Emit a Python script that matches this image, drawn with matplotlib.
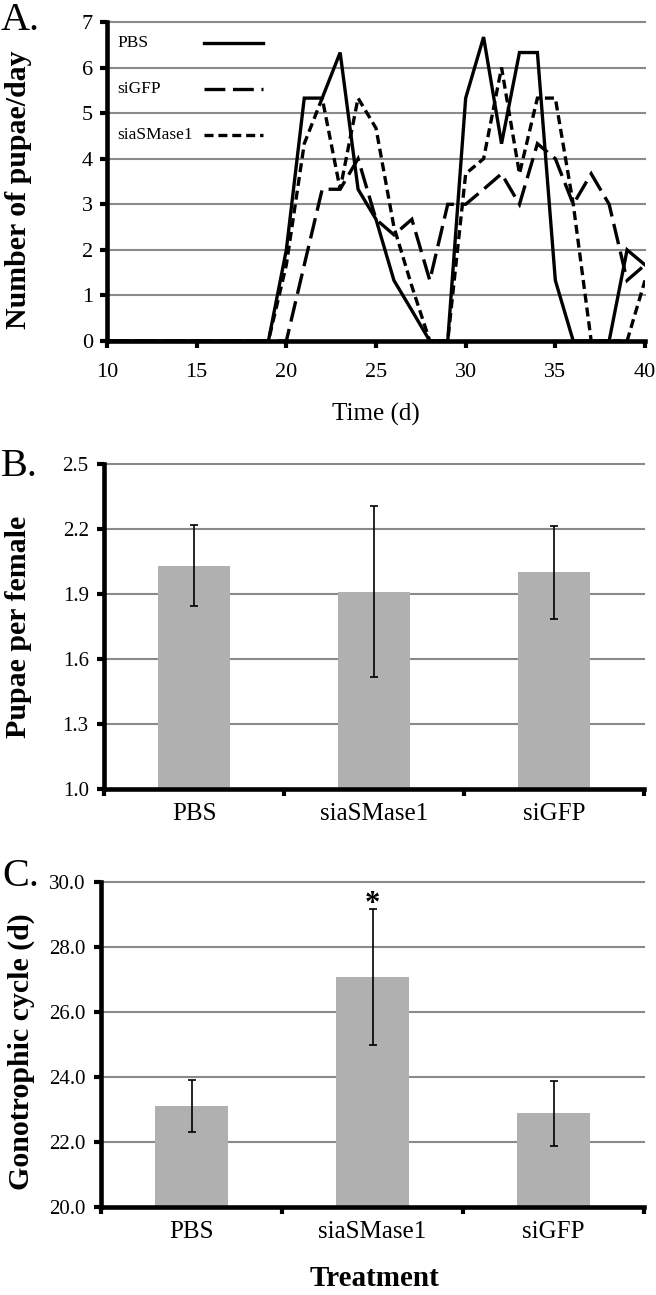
import matplotlib
matplotlib.use('Agg')
import matplotlib.pyplot as plt
from matplotlib.lines import Line2D
import numpy as np

plt.rcParams['font.family'] = ['Liberation Serif', 'DejaVu Serif']
plt.rcParams['lines.scale_dashes'] = False

# ---------------- data ----------------
days = [10, 11, 12, 13, 14, 15, 16, 17, 18, 19, 20, 21, 22, 23, 24, 25,
        26, 27, 28, 29, 30, 31, 32, 33, 34, 35, 36, 37, 38, 39, 40]
pbs_daily = [0, 0, 0, 0, 0, 0, 0, 0, 0,
             0, 2.0, 5.33, 5.33, 6.33, 3.33, 2.67, 1.33, 0.67, 0, 0,
             5.33, 6.67, 4.33, 6.33, 6.33, 1.33, 0, 0, 0, 2.0, 1.67]
sigfp_daily = [0, 0, 0, 0, 0, 0, 0, 0, 0,
               0, 0, 1.67, 3.33, 3.33, 4.0, 2.67, 2.33, 2.67, 1.33, 3.0,
               3.0, 3.33, 3.67, 3.0, 4.33, 4.0, 3.0, 3.67, 3.0, 1.33, 1.67]
siasmase_daily = [0, 0, 0, 0, 0, 0, 0, 0, 0,
                  0, 1.67, 4.33, 5.33, 3.33, 5.33, 4.67, 2.5, 1.2, 0, 0,
                  3.67, 4.0, 6.0, 3.67, 5.33, 5.33, 3.0, 0, 0, 0, 1.33]
series_names = ['PBS', 'siGFP', 'siaSMase1']

treatments = ['PBS', 'siaSMase1', 'siGFP']
pupae_mean = [2.03, 1.91, 2.00]
pupae_err = [0.187, 0.395, 0.215]
cycle_mean = [23.10, 27.07, 22.88]
cycle_err = [0.80, 2.10, 1.00]
significance = ['', '*', '']

# ---------------- figure ----------------
W, H = 656, 1295
fig = plt.figure(figsize=(W / 100, H / 100), dpi=100)


def axes_px(l, t, r, b):
    return fig.add_axes([l / W, 1 - b / H, (r - l) / W, (b - t) / H])


GRID = '#8a8a8a'
BAR = '#b0b0b0'


def style(ax):
    for s in ['top', 'right']:
        ax.spines[s].set_visible(False)
    for s in ['left', 'bottom']:
        ax.spines[s].set_linewidth(3.3)
        ax.spines[s].set_color('black')
        ax.spines[s].set_capstyle('projecting')
    ax.yaxis.grid(True, color=GRID, linewidth=1.5)
    ax.set_axisbelow(True)
    ax.tick_params(axis='both', which='major', direction='out',
                   length=5, width=3, color='black')


axA = axes_px(107, 22, 645, 341)
axB = axes_px(104, 464, 644, 789)
axC = axes_px(101, 882, 644, 1207)

# ---------------- panel A ----------------
style(axA)
styles = {
    'PBS': dict(linestyle='-'),
    'siGFP': dict(linestyle=(0, (15, 5.5))),
    'siaSMase1': dict(linestyle=(0, (6.5, 3.5))),
}
data_map = {'PBS': pbs_daily, 'siGFP': sigfp_daily, 'siaSMase1': siasmase_daily}
for name in series_names:
    axA.plot(days, data_map[name], color='black', lw=2.4,
             solid_joinstyle='miter', dash_joinstyle='miter', zorder=2,
             **styles[name])
axA.set_xlim(10, 40)
axA.set_ylim(0, 7)
axA.set_xticks([10, 15, 20, 25, 30, 35, 40])
axA.set_yticks([0, 1, 2, 3, 4, 5, 6, 7])
axA.tick_params(axis='y', labelsize=16, pad=5)
axA.tick_params(axis='x', labelsize=16, pad=11)
for gl in axA.get_ygridlines():
    gl.set_clip_on(False)

leg_y = [0.934, 0.790, 0.646]
for name, yy in zip(series_names, leg_y):
    axA.text(0.0186, yy, name, transform=axA.transAxes, fontsize=12.5,
             ha='left', va='center')
    axA.add_line(Line2D([0.18, 0.29], [yy, yy], transform=axA.transAxes,
                        color='black', lw=2.4, **styles[name]))

fig.text(376 / W, 1 - 414 / H, 'Time (d)', fontsize=18, ha='center', va='center')
fig.text(19 / W, 1 - 190 / H, 'Number of pupae/day', rotation=90, fontsize=21.5,
         fontweight='bold', ha='center', va='center')
fig.text(1 / W, 1 - 20 / H, 'A.', fontsize=29, ha='left', va='center')


# ---------------- bar panels ----------------
def bar_panel(ax, means, errs, ylim, yticks):
    style(ax)
    x = np.arange(len(treatments))
    ax.bar(x, means, width=0.4, color=BAR, zorder=2)
    ax.errorbar(x, means, yerr=errs, fmt='none', ecolor='black',
                elinewidth=1.2, capsize=2.6, capthick=1.2, zorder=3)
    ax.set_xlim(-0.5, len(treatments) - 0.5)
    ax.set_ylim(*ylim)
    ax.set_yticks(yticks)
    ax.set_yticklabels(['%.1f' % v for v in yticks])
    ax.set_xticks(np.arange(len(treatments) + 1) - 0.5)
    ax.set_xticklabels([])
    ax.set_xticks(x, minor=True)
    ax.set_xticklabels(treatments, minor=True, fontsize=18)
    ax.tick_params(axis='x', which='minor', length=0, pad=10)
    ax.tick_params(axis='y', labelsize=15, pad=6)
    for gl in ax.get_ygridlines():
        gl.set_clip_on(False)
    return x


bar_panel(axB, pupae_mean, pupae_err, (1.0, 2.5), [1.0, 1.3, 1.6, 1.9, 2.2, 2.5])
fig.text(19 / W, 1 - 627 / H, 'Pupae per female', rotation=90, fontsize=21.5,
         fontweight='bold', ha='center', va='center')
fig.text(1 / W, 1 - 467 / H, 'B.', fontsize=29, ha='left', va='center')

xc = bar_panel(axC, cycle_mean, cycle_err, (20.0, 30.0), [20.0, 22.0, 24.0, 26.0, 28.0, 30.0])
for xi, m, e, s in zip(xc, cycle_mean, cycle_err, significance):
    if s:
        axC.annotate(s, (xi, m + e), xytext=(0, -2), textcoords='offset points',
                     ha='center', va='baseline', fontsize=22, fontweight='bold')
fig.text(21 / W, 1 - 1052 / H, 'Gonotrophic cycle (d)', rotation=90, fontsize=21.5,
         fontweight='bold', ha='center', va='center')
fig.text(2 / W, 1 - 877 / H, 'C.', fontsize=29, ha='left', va='center')
fig.text(374 / W, 1 - 1279 / H, 'Treatment', fontsize=21, fontweight='bold',
         ha='center', va='center')

fig.savefig('out.png', dpi=100)
